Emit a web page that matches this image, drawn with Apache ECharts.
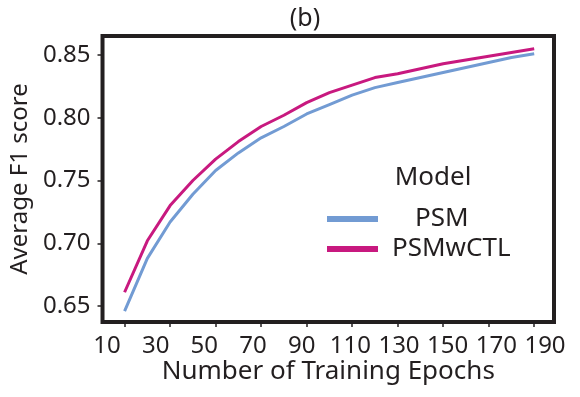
<!DOCTYPE html>
<html>
<head>
    <meta charset="utf-8">
    <style>
        html, body {
            margin: 0;
            padding: 0;
            background: #fff;
        }

        #chart {
            width: 580px;
            height: 397px;
        }
    </style>
</head>
<body>
    <div id="chart"></div>
    <script src="https://cdn.jsdelivr.net/npm/echarts@6/dist/echarts.min.js"></script>
    <script>
        // training epochs
        var epochs = [10, 20, 30, 40, 50, 60, 70, 80, 90, 100, 110, 120, 130, 140, 150, 160, 170, 180, 190];
        // average F1
        var psm = [0.646, 0.688, 0.717, 0.739, 0.758, 0.772, 0.784, 0.793, 0.803, 0.8105, 0.818, 0.824, 0.828, 0.832, 0.836, 0.840, 0.844, 0.848, 0.851];
        var psmwctl = [0.661, 0.702, 0.730, 0.750, 0.767, 0.781, 0.793, 0.802, 0.812, 0.820, 0.826, 0.832, 0.835, 0.839, 0.843, 0.846, 0.849, 0.852, 0.855];

        var xTicks = [10, 30, 50, 70, 90, 110, 130, 150, 170, 190];
        var yTicks = [0.65, 0.70, 0.75, 0.80, 0.85];

        var ink = '#231f20';
        var font = 'Noto Sans';

        function pairs (ys) {
            return epochs.map(function (e, i) { return [e, ys[i]]; });
        }

        var chart = echarts.init(document.getElementById('chart'));

        var option = {
            animation: false,
            textStyle: { fontFamily: font, color: ink },
            title: [
                {
                    text: '(b)',
                    left: 305,
                    top: 6,
                    padding: 0,
                    textAlign: 'center',
                    textStyle: { fontFamily: font, fontSize: 25, fontWeight: 'normal', color: ink }
                },
                {
                    text: 'Model',
                    left: 433,
                    top: 165,
                    padding: 0,
                    textAlign: 'center',
                    textStyle: { fontFamily: font, fontSize: 26, fontWeight: 'normal', color: ink }
                }
            ],
            legend: [
                {
                    data: ['PSM'],
                    left: 327,
                    top: 206,
                    padding: 0,
                    icon: 'rect',
                    itemWidth: 51,
                    itemHeight: 6,
                    textStyle: { fontFamily: font, fontSize: 26, color: ink, padding: [0, 0, 0, 32] }
                },
                {
                    data: ['PSMwCTL'],
                    left: 327,
                    top: 236,
                    padding: 0,
                    icon: 'rect',
                    itemWidth: 51,
                    itemHeight: 6,
                    textStyle: { fontFamily: font, fontSize: 26, color: ink, padding: [0, 0, 0, 9] }
                }
            ],
            grid: [
                {
                    left: 95.5, right: 26, top: 36, bottom: 75,
                    show: true,
                    borderColor: ink,
                    borderWidth: 4
                },
                // only carries the spread-out x tick labels
                { left: 107, right: 35, top: 36, bottom: 75, show: false }
            ],
            xAxis: [
                {
                    type: 'value',
                    gridIndex: 0,
                    min: 0.3,
                    max: 198.7,
                    name: 'Number of Training Epochs',
                    nameLocation: 'middle',
                    nameGap: 37,
                    nameTextStyle: { fontFamily: font, fontSize: 26, color: ink },
                    axisLine: { show: false },
                    axisTick: {
                        show: true,
                        length: 5,
                        customValues: xTicks,
                        lineStyle: { color: ink, width: 1.5 }
                    },
                    axisLabel: { show: false },
                    splitLine: { show: false }
                },
                {
                    type: 'value',
                    gridIndex: 1,
                    min: 10,
                    max: 190,
                    axisLine: { show: false },
                    axisTick: { show: false },
                    axisLabel: {
                        customValues: xTicks,
                        margin: 12,
                        fontFamily: font,
                        fontSize: 24,
                        color: ink
                    },
                    splitLine: { show: false }
                }
            ],
            yAxis: [
                {
                    type: 'value',
                    gridIndex: 0,
                    min: 0.6373,
                    max: 0.8651,
                    name: 'Average F1 score',
                    nameLocation: 'middle',
                    nameGap: 69,
                    nameTextStyle: { fontFamily: font, fontSize: 24, color: ink },
                    axisLine: { show: false },
                    axisTick: {
                        show: true,
                        length: 5,
                        customValues: yTicks,
                        lineStyle: { color: ink, width: 1.5 }
                    },
                    axisLabel: {
                        customValues: yTicks,
                        margin: 12,
                        fontFamily: font,
                        fontSize: 24,
                        color: ink,
                        formatter: function (v) { return v.toFixed(2); }
                    },
                    splitLine: { show: false }
                },
                { type: 'value', gridIndex: 1, show: false, min: 0, max: 1 }
            ],
            series: [
                {
                    name: 'PSM',
                    type: 'line',
                    xAxisIndex: 0,
                    yAxisIndex: 0,
                    showSymbol: false,
                    data: pairs(psm),
                    itemStyle: { color: '#729bd3' },
                    lineStyle: { color: '#729bd3', width: 3 }
                },
                {
                    name: 'PSMwCTL',
                    type: 'line',
                    xAxisIndex: 0,
                    yAxisIndex: 0,
                    showSymbol: false,
                    data: pairs(psmwctl),
                    itemStyle: { color: '#c8197f' },
                    lineStyle: { color: '#c8197f', width: 3 }
                }
            ]
        };

        chart.setOption(option);
    </script>
</body>
</html>
